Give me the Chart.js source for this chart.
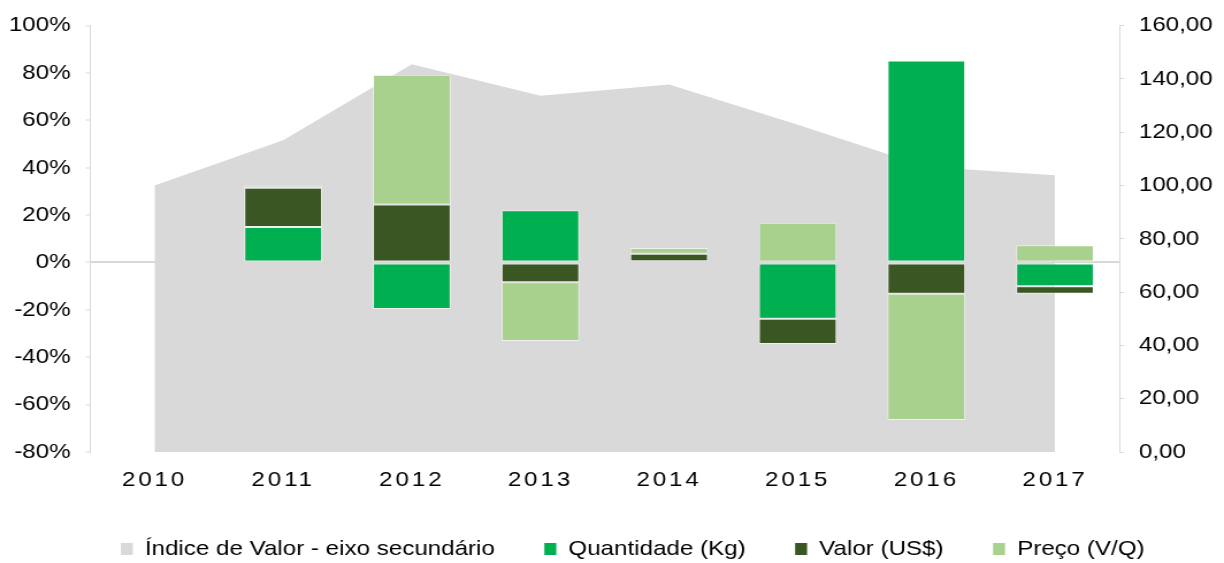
<!DOCTYPE html>
<html>
<head>
<meta charset="utf-8">
<script src="https://cdn.jsdelivr.net/npm/chart.js@4"></script>
<style>
    body { margin: 0; background: #ffffff; }
</style>
</head>
<body>
<!-- drawn at 1064 wide and stretched, the reference text is horizontally wide -->
<canvas id="chart" width="1064" height="563" style="display: block; width: 1224px; height: 563px;"></canvas>
<script>
// data
const years = ['2010', '2011', '2012', '2013', '2014', '2015', '2016', '2017'];
const indiceValor = [100, 117, 145.5, 133.7, 137.9, 122.8, 107, 103.8];
const quantidade = [null, 15, -19.6, 22, 0.5, -23.8, 85.3, -10];
const valor = [null, 16.5, 24.5, -8.3, 3.2, -10.6, -13.2, -3.2];
const preco = [null, 1, 54.8, -24.8, 2.4, 16.8, -53.3, 7.3];

const leftTicks = { min: -80, max: 100, step: 20 };
const rightTicks = { min: 0, max: 160, step: 20 };

const canvas = document.getElementById('chart');
const fontFamily = "'Liberation Sans', Arial, sans-serif";
const axisGrey = '#D9D9D9';

const defaultLabels = Chart.defaults.plugins.legend.labels.generateLabels;

// legend sits a bit right of centre in the reference
const legendShift = {
    id: 'legendShift',
    afterLayout: function (chart) {
        chart.legend.left = 36;
    }
};

new Chart(canvas, {
    type: 'bar',
    data: {
        labels: years,
        datasets: [
            {
                type: 'line',
                label: 'Índice de Valor - eixo secundário',
                data: indiceValor,
                yAxisID: 'y1',
                backgroundColor: axisGrey,
                borderColor: axisGrey,
                borderWidth: 0,
                pointRadius: 0,
                fill: 'origin',
                tension: 0,
                order: 4
            },
            {
                label: 'Quantidade (Kg)',
                data: quantidade,
                backgroundColor: '#00B050',
                borderColor: 'rgba(255,255,255,0.6)',
                borderWidth: 1,
                borderSkipped: false,
                order: 1
            },
            {
                label: 'Valor (US$)',
                data: valor,
                backgroundColor: '#3A5623',
                borderColor: 'rgba(255,255,255,0.6)',
                borderWidth: 1,
                borderSkipped: false,
                order: 2
            },
            {
                label: 'Preço (V/Q)',
                data: preco,
                backgroundColor: '#A9D18E',
                borderColor: 'rgba(255,255,255,0.6)',
                borderWidth: 1,
                borderSkipped: false,
                order: 3
            }
        ]
    },
    options: {
        responsive: false,
        animation: false,
        layout: {
            padding: { top: 22, left: 0, right: 0, bottom: 0 }
        },
        datasets: {
            bar: {
                categoryPercentage: 0.606,
                barPercentage: 1
            }
        },
        scales: {
            x: {
                stacked: true,
                grid: { display: false, drawTicks: false, tickLength: 0 },
                border: { display: false },
                ticks: {
                    color: '#000000',
                    padding: 16,
                    maxRotation: 0,
                    font: { family: fontFamily, size: 21 }
                },
                afterFit: function (axis) {
                    axis.height = 43.5;
                },
                afterUpdate: function (axis) {
                    // the year labels are spaced out in the reference
                    if (!axis.spaced) {
                        const draw = axis.drawLabels;
                        axis.drawLabels = function (area) {
                            axis.ctx.letterSpacing = '2.5px';
                            draw.call(axis, area);
                            axis.ctx.letterSpacing = '0px';
                        };
                        axis.spaced = true;
                    }
                }
            },
            y: {
                stacked: true,
                position: 'left',
                min: leftTicks.min,
                max: leftTicks.max,
                grid: {
                    drawOnChartArea: true,
                    color: function (ctx) {
                        return ctx.tick && ctx.tick.value === 0 ? axisGrey : 'rgba(0,0,0,0)';
                    },
                    lineWidth: 2,
                    tickColor: axisGrey,
                    tickWidth: 1,
                    tickLength: 4
                },
                border: { display: true, color: axisGrey, width: 1 },
                ticks: {
                    stepSize: leftTicks.step,
                    color: '#000000',
                    padding: 13,
                    font: { family: fontFamily, size: 21 },
                    callback: function (value) {
                        return value + '%';
                    }
                },
                afterFit: function (axis) {
                    axis.width = 78.4;
                }
            },
            y1: {
                position: 'right',
                min: rightTicks.min,
                max: rightTicks.max,
                grid: {
                    drawOnChartArea: false,
                    color: axisGrey,
                    tickLength: 4
                },
                border: { display: true, color: axisGrey, width: 1 },
                ticks: {
                    stepSize: rightTicks.step,
                    color: '#000000',
                    padding: 13,
                    font: { family: fontFamily, size: 21 },
                    callback: function (value) {
                        return value.toFixed(2).replace('.', ',');
                    }
                },
                afterFit: function (axis) {
                    axis.width = 91;
                }
            }
        },
        plugins: {
            tooltip: { enabled: false },
            legend: {
                position: 'bottom',
                maxHeight: 67.5,
                labels: {
                    color: '#000000',
                    boxWidth: 10.4,
                    boxHeight: 12,
                    padding: 43,
                    font: { family: fontFamily, size: 21 },
                    sort: function (a, b) {
                        return a.datasetIndex - b.datasetIndex;
                    },
                    generateLabels: function (chart) {
                        const items = defaultLabels(chart);
                        items.forEach(function (item) {
                            item.lineWidth = 0;
                            item.strokeStyle = 'rgba(0,0,0,0)';
                        });
                        return items;
                    }
                }
            }
        }
    },
    plugins: [legendShift]
});
</script>
</body>
</html>
